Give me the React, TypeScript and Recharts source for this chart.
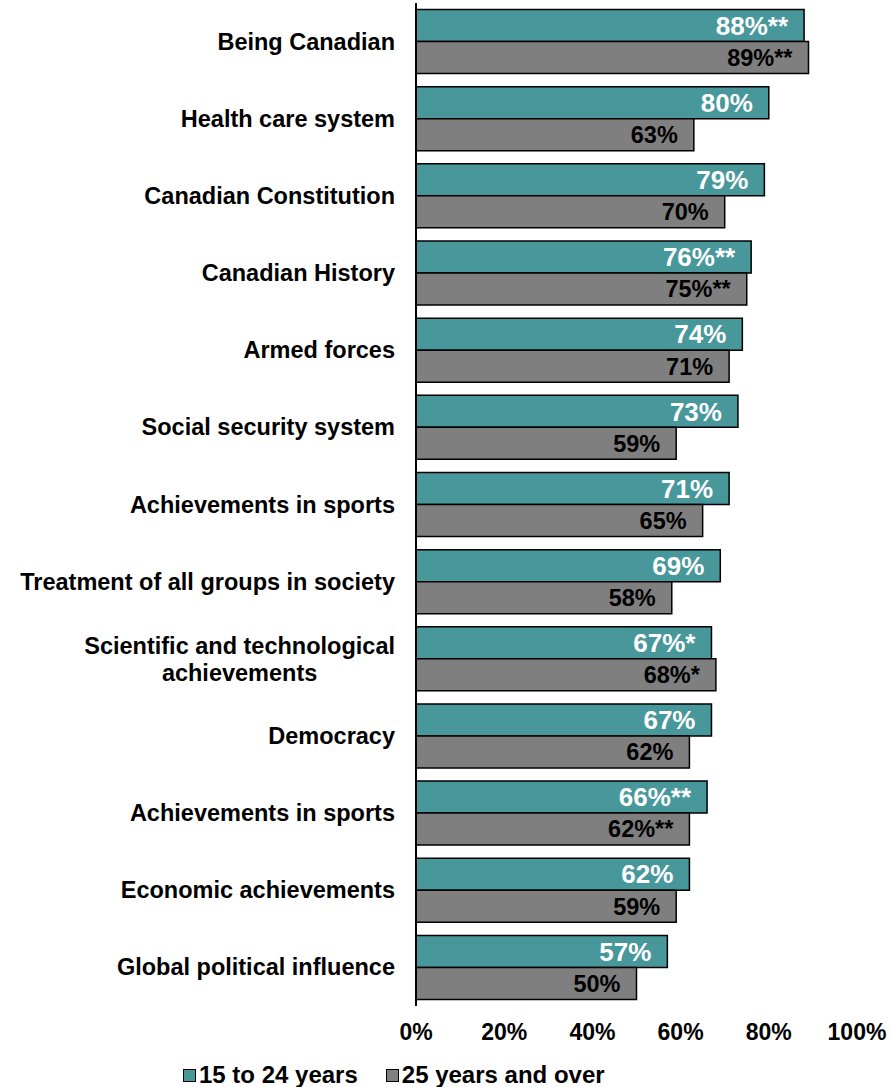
import { Bar, BarChart, LabelList, Legend, XAxis, YAxis } from "recharts";

const categories = [
  "Being Canadian",
  "Health care system",
  "Canadian Constitution",
  "Canadian History",
  "Armed forces",
  "Social security system",
  "Achievements in sports",
  "Treatment of all groups in society",
  "Scientific and technological\nachievements",
  "Democracy",
  "Achievements in sports",
  "Economic achievements",
  "Global political influence",
];
const youngValues = [88, 80, 79, 76, 74, 73, 71, 69, 67, 67, 66, 62, 57];
const olderValues = [89, 63, 70, 75, 71, 59, 65, 58, 68, 62, 62, 59, 50];
const notes = ["**", "", "", "**", "", "", "", "", "*", "", "**", "", ""];
const xTicks = [0, 20, 40, 60, 80, 100];

const TEAL = "#47979b";
const GREY = "#7f7f7f";
const FONT = "'Liberation Sans', Arial, sans-serif";
const CAT_SIZE = 23.5;

const rows = categories.map((_, i) => ({
  row: i,
  young: youngValues[i],
  older: olderValues[i],
  youngLabel: `${youngValues[i]}%${notes[i]}`,
  olderLabel: `${olderValues[i]}%${notes[i]}`,
}));

let ctx: CanvasRenderingContext2D | null = null;
function textWidth(s: string) {
  if (!ctx) ctx = document.createElement("canvas").getContext("2d");
  if (!ctx) return s.length * 12;
  ctx.font = `bold ${CAT_SIZE}px 'Liberation Sans'`;
  return ctx.measureText(s).width;
}

function CategoryTick({ x, y, payload }: any) {
  const lines = categories[payload.value].split("\n");
  const right = x - 13;
  if (lines.length === 1) {
    return (
      <text x={right} y={y} dy={8} textAnchor="end" fontSize={CAT_SIZE} fontWeight="bold" fontFamily={FONT} fill="#000">
        {lines[0]}
      </text>
    );
  }
  const cx = right - textWidth(lines[0]) / 2;
  return (
    <text x={cx} y={y} textAnchor="middle" fontSize={CAT_SIZE} fontWeight="bold" fontFamily={FONT} fill="#000">
      {lines.map((l, i) => (
        <tspan key={i} x={cx} dy={i === 0 ? -5 : 27}>
          {l}
        </tspan>
      ))}
    </text>
  );
}

function PercentTick({ x, y, payload }: any) {
  return (
    <text x={x} y={y} dy={26} textAnchor="middle" fontSize={23} fontWeight="bold" fontFamily={FONT} fill="#000">
      {`${payload.value}%`}
    </text>
  );
}

function LegendBox() {
  const items = [
    { name: "15 to 24 years", color: TEAL },
    { name: "25 years and over", color: GREY },
  ];
  return (
    <div style={{ display: "flex", paddingLeft: 183, paddingTop: 10, fontFamily: FONT, fontWeight: "bold", fontSize: 24 }}>
      {items.map((it) => (
        <div key={it.name} style={{ display: "flex", alignItems: "center", marginRight: 28, lineHeight: "26px" }}>
          <span
            style={{
              display: "inline-block",
              width: 11,
              height: 11,
              background: it.color,
              border: "1.5px solid #000",
              marginRight: 3,
            }}
          />
          {it.name}
        </div>
      ))}
    </div>
  );
}

export default function App() {
  return (
    <div style={{ position: "absolute", left: 0, top: 0, background: "#fff" }}>
      <BarChart
        width={891}
        height={1087}
        data={rows}
        layout="vertical"
        margin={{ top: 3, right: 34, left: 0, bottom: 0 }}
        barCategoryGap="8.5%"
        barGap={0}
      >
        <XAxis
          type="number"
          domain={[0, 100]}
          ticks={xTicks}
          axisLine={false}
          tickLine={false}
          tick={<PercentTick />}
          height={46}
        />
        <YAxis
          type="category"
          dataKey="row"
          width={416}
          axisLine={{ stroke: "#000", strokeWidth: 2 }}
          tickLine={false}
          tick={<CategoryTick />}
          interval={0}
        />
        <Legend verticalAlign="bottom" height={35} content={<LegendBox />} />
        <Bar dataKey="young" fill={TEAL} stroke="#000" strokeWidth={1.5} isAnimationActive={false}>
          <LabelList
            dataKey="youngLabel"
            position="insideRight"
            offset={16}
            fill="#fff"
            fontSize={26}
            fontWeight="bold"
            fontFamily={FONT}
          />
        </Bar>
        <Bar dataKey="older" fill={GREY} stroke="#000" strokeWidth={1.5} isAnimationActive={false}>
          <LabelList
            dataKey="olderLabel"
            position="insideRight"
            offset={16}
            fill="#000"
            fontSize={23.5}
            fontWeight="bold"
            fontFamily={FONT}
          />
        </Bar>
      </BarChart>
    </div>
  );
}
